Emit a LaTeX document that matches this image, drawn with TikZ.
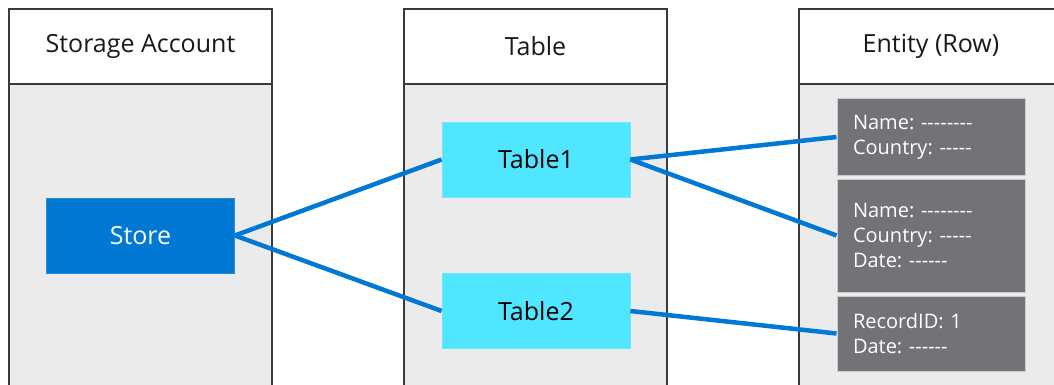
\documentclass[tikz,border=0pt]{standalone}
\usepackage{fontspec}
\setsansfont{Open Sans}[Ligatures=TeXOff]
\frenchspacing
\definecolor{cazure}{HTML}{0078D4}
\definecolor{ccyan}{HTML}{50E6FF}
\definecolor{cslate}{HTML}{737277}
\definecolor{cpanel}{HTML}{EBEBEB}
\definecolor{cframe}{HTML}{3A3A3A}
\tikzset{
  every picture/.style={font=\sffamily},
  frame/.style={draw=cframe, line width=1.4pt},
  header/.style={font=\sffamily\fontsize{25}{29}\selectfont, text=black!90},
  block/.style={fill=#1, draw=#1!85!white, line width=0.8pt, minimum width=188, minimum height=75, inner sep=0pt, font=\sffamily\fontsize{25}{29}\selectfont},
  block/.default=ccyan,
  entity/.style={fill=cslate, draw=gray!40, line width=1pt, text=white, align=left, text width=156, inner xsep=16, inner ysep=0pt, minimum height=#1, font=\sffamily\fontsize{20}{25}\selectfont},
  link/.style={draw=cazure, line width=4.5pt},
}

\begin{document}
\begin{tikzpicture}[x=1pt, y=-1pt]
  \useasboundingbox (0,0) rectangle (1054,385);
  \clip (0,0) rectangle (1054,385);
  % three columns
  \fill[cpanel] (9,84) rectangle (272,390);
  \fill[cpanel] (404,84) rectangle (667,390);
  \fill[cpanel] (799,84) rectangle (1060,390);
  \draw[frame] (9,390) -- (9,9) -- (272,9) -- (272,390) (9,84) -- (272,84);
  \draw[frame] (404,390) -- (404,9) -- (667,9) -- (667,390) (404,84) -- (667,84);
  \draw[frame] (799,390) -- (799,9) -- (1060,9) (799,84) -- (1060,84);
  \node[header] (hacct) at (140.5,46.5) {Storage Account};
  \node[header] (htable) at (535.5,46.5) {Table};
  \node[header] (hentity) at (931,46.5) {Entity (Row)};
  % nodes
  \node[block=cazure, text=white] (store) at (140.5,235.5) {Store};
  \node[block] (table1) at (536,159.5) {Table1};
  \node[block] (table2) at (536,311) {Table2};
  \node[entity=76] (row1) at (931,137) {Name: --------\\Country: -----};
  \node[entity=113] (row2) at (931,235.5) {Name: --------\\Country: -----\\Date: ------};
  \node[entity=75] (row3) at (931,333.5) {RecordID: 1\\Date: ------};
  % links
  \draw[link] (store.east) -- (table1.west);
  \draw[link] (store.east) -- (table2.west);
  \draw[link] (table1.east) -- (row1.west);
  \draw[link] (table1.east) -- (row2.west);
  \draw[link] (table2.east) -- (row3.west);
\end{tikzpicture}
\end{document}
